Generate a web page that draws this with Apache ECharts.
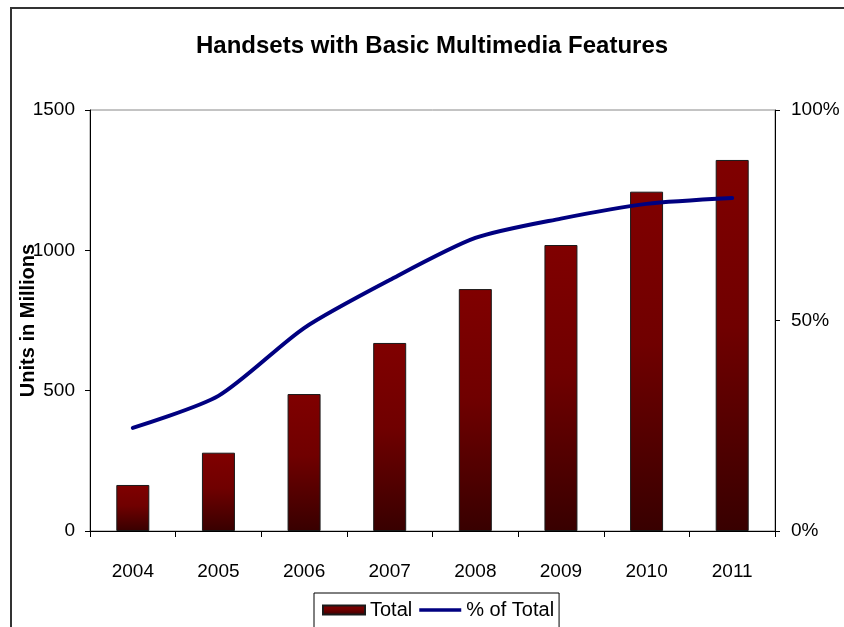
<!DOCTYPE html>
<html>
<head>
<meta charset="utf-8">
<style>
  html, body { margin: 0; padding: 0; background: #fff; }
  #chart { width: 844px; height: 627px; }
</style>
<script src="https://cdn.jsdelivr.net/npm/echarts@6/dist/echarts.min.js"></script>
</head>
<body>
<div id="chart"></div>
<script>
// Years on the category axis
const years = ['2004', '2005', '2006', '2007', '2008', '2009', '2010', '2011'];
// Handsets with basic multimedia features, units in millions
const totalUnits = [164, 279, 488, 670, 862, 1019, 1209, 1322];
// Share of all handsets, percent
const pctOfTotal = [24.5, 32.1, 48.2, 59.6, 69.6, 74.2, 77.7, 79.1];
// Tick labels
const leftTicks = [0, 500, 1000, 1500];
const rightTicks = [0, 50, 100];

const FONT = 'Liberation Sans, Arial, sans-serif';
const chart = echarts.init(document.getElementById('chart'));

chart.setOption({
  animation: false,
  backgroundColor: '#ffffff',
  graphic: [
    {
      // chart-area frame (its right and bottom edges run off the canvas)
      type: 'rect',
      shape: { x: 11, y: 8, width: 900, height: 700 },
      style: { fill: 'none', stroke: '#333333', lineWidth: 2 },
      silent: true,
      z: -1
    }
  ],
  title: {
    text: 'Handsets with Basic Multimedia Features',
    left: 191,
    top: 29,
    textStyle: { fontFamily: FONT, fontSize: 24, fontWeight: 'bold', color: '#000' }
  },
  legend: {
    top: 593,
    left: 314,
    padding: [7, 5, 20, 8],
    itemGap: 7,
    itemWidth: 42,
    itemHeight: 9,
    borderColor: '#000',
    borderWidth: 1,
    borderRadius: 0,
    textStyle: { fontFamily: FONT, fontSize: 20, color: '#000' },
    data: [
      { name: 'Total', icon: 'rect' },
      { name: '% of Total', icon: 'path://M0,3 L42,3 L42,6.5 L0,6.5 Z' }
    ]
  },
  grid: {
    left: 90, right: 69, top: 110, bottom: 96,
    containLabel: false,
    outerBoundsMode: 'none',
    show: true, borderColor: '#888888', borderWidth: 1
  },
  xAxis: {
    type: 'category',
    data: years,
    boundaryGap: true,
    axisLine: { lineStyle: { color: '#000', width: 1 } },
    axisTick: { show: true, length: 6, inside: false, lineStyle: { color: '#000' } },
    axisLabel: { fontFamily: FONT, fontSize: 19, color: '#000', margin: 31 }
  },
  yAxis: [
    {
      type: 'value',
      min: 0, max: 1500, interval: 500,
      name: 'Units in Millions',
      nameLocation: 'middle',
      nameGap: 52,
      nameRotate: 90,
      nameMoveOverlap: false,
      nameTextStyle: { fontFamily: FONT, fontSize: 20, fontWeight: 'bold', color: '#000' },
      axisLine: { show: true, lineStyle: { color: '#000' } },
      axisTick: { show: true, length: 5, lineStyle: { color: '#000' } },
      splitLine: { show: false },
      axisLabel: {
        fontFamily: FONT, fontSize: 19, color: '#000', margin: 15,
        formatter: v => leftTicks.includes(v) ? String(v) : ''
      }
    },
    {
      type: 'value',
      min: 0, max: 100, interval: 50,
      position: 'right',
      axisLine: { show: true, lineStyle: { color: '#000' } },
      axisTick: { show: true, length: 5, lineStyle: { color: '#000' } },
      splitLine: { show: false },
      axisLabel: {
        fontFamily: FONT, fontSize: 19, color: '#000', margin: 16,
        formatter: v => rightTicks.includes(v) ? v + '%' : ''
      }
    }
  ],
  series: [
    {
      name: 'Total',
      type: 'bar',
      yAxisIndex: 0,
      data: totalUnits,
      barWidth: 33,
      itemStyle: {
        color: new echarts.graphic.LinearGradient(0, 0, 0, 1, [
          { offset: 0, color: '#800000' },
          { offset: 0.45, color: '#700000' },
          { offset: 1, color: '#380000' }
        ]),
        borderColor: '#1a1a1a',
        borderWidth: 1
      },
      z: 2
    },
    {
      name: '% of Total',
      type: 'line',
      yAxisIndex: 1,
      data: pctOfTotal,
      smooth: 0.25,
      symbol: 'none',
      lineStyle: { color: '#000080', width: 4, cap: 'round' },
      itemStyle: { color: '#000080' },
      z: 3
    }
  ]
});
</script>
</body>
</html>
